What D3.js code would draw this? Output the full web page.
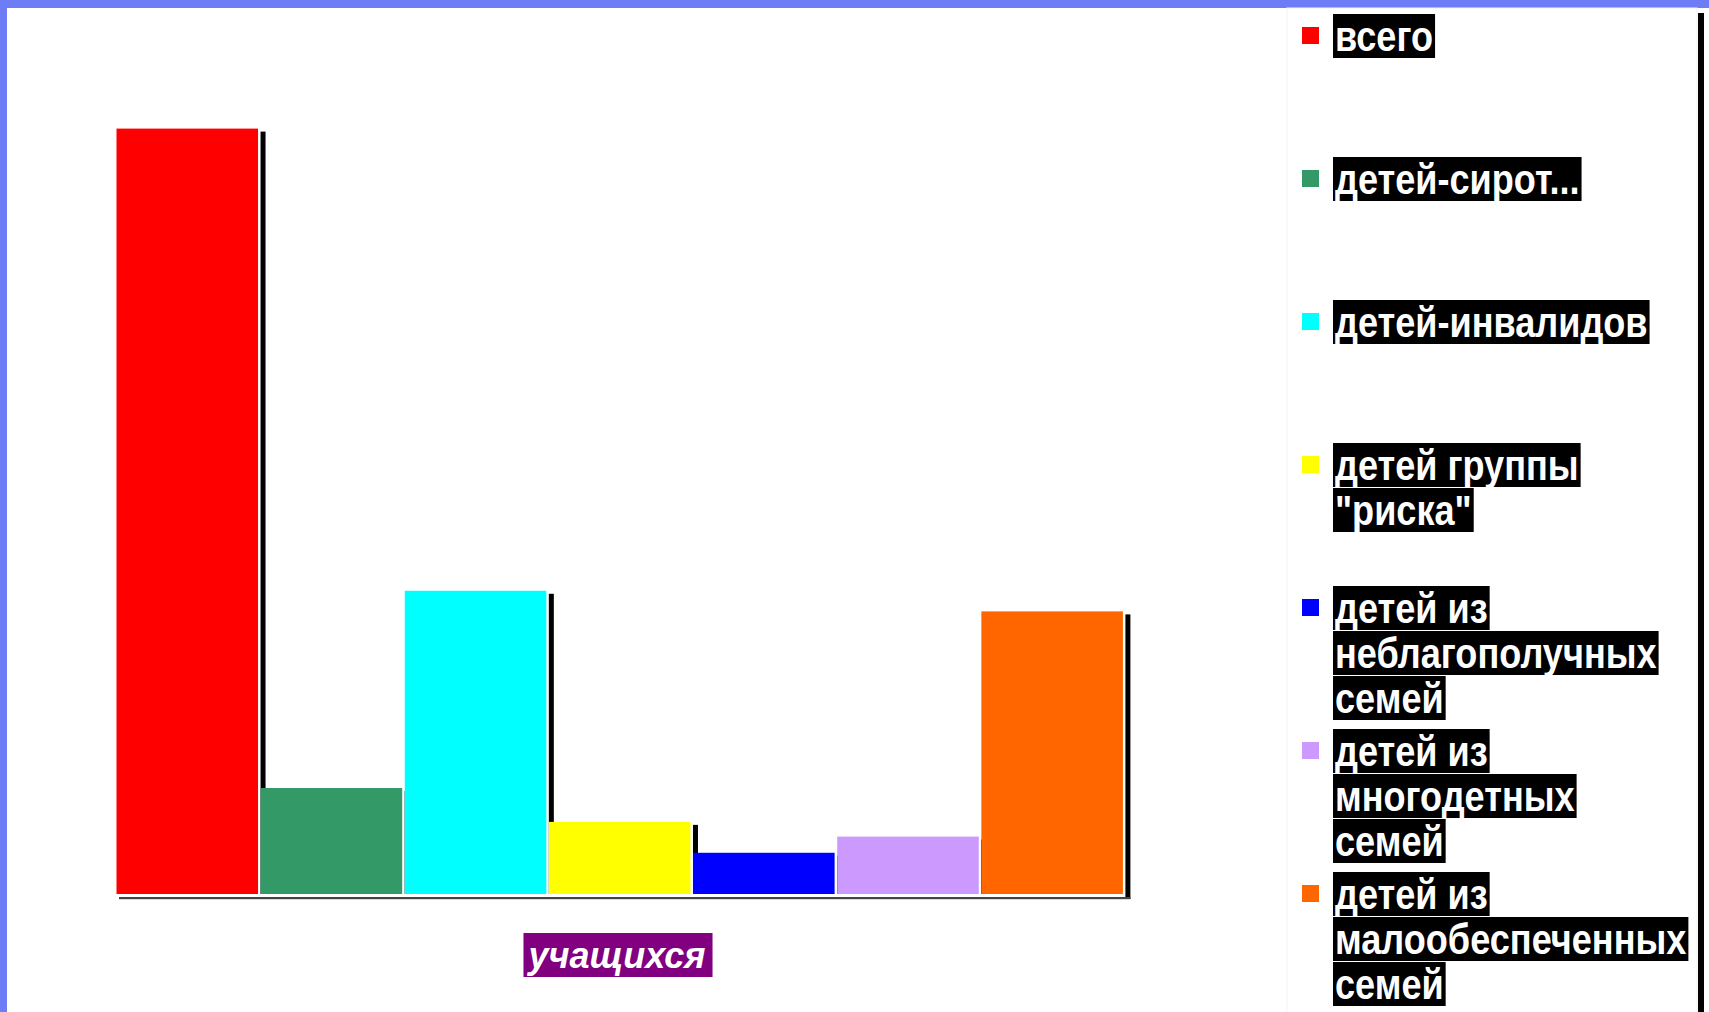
<!DOCTYPE html>
<html>
<head>
<meta charset="utf-8">
<script src="https://cdn.jsdelivr.net/npm/d3@7"></script>
<style>
  html, body { margin: 0; padding: 0; background: #ffffff; }
  svg { display: block; }
</style>
</head>
<body>
<svg id="chart" width="1709" height="1012"></svg>
<script>
// ---- data ----
const categoryLabel = "учащихся";
const seriesNames = ["всего", "детей-сирот...", "детей-инвалидов", "детей группы \"риска\"",
  "детей из неблагополучных семей", "детей из многодетных семей", "детей из малообеспеченных семей"];
const legendLines = [
  ["всего"],
  ["детей-сирот..."],
  ["детей-инвалидов"],
  ["детей группы", "\"риска\""],
  ["детей из", "неблагополучных", "семей"],
  ["детей из", "многодетных", "семей"],
  ["детей из", "малообеспеченных", "семей"]
];
const values = [260, 36, 103, 24.5, 14, 19.5, 96];
const colors = ["#ff0000", "#339966", "#00ffff", "#ffff00", "#0000ff", "#cc99ff", "#ff6600"];

// ---- drawing ----
const W = 1709, H = 1012;
const svg = d3.select("#chart");

// frame
svg.append("rect").attr("x", 0).attr("y", 0).attr("width", W).attr("height", H).attr("fill", "#ffffff");
svg.append("rect").attr("x", 0).attr("y", 0).attr("width", W).attr("height", 8).attr("fill", "#6e7cf6");
svg.append("rect").attr("x", 0).attr("y", 0).attr("width", 7).attr("height", H).attr("fill", "#6e7cf6");

const x = d3.scaleBand().domain(seriesNames).range([116.5, 1125.5]).paddingInner(0).paddingOuter(0);
const y = d3.scaleLinear().domain([0, 260]).range([894, 128.6]);
const gap = 2.6;
const bw = x.bandwidth() - gap;
const last = seriesNames.length - 1;

const data = seriesNames.map((s, i) => ({ name: s, value: values[i], color: colors[i], i }));

// shadows (right side) drawn first, then bars over them
svg.append("g").selectAll("rect").data(data).join("rect")
  .attr("x", d => x(d.name) + bw + 2.5)
  .attr("y", d => y(d.value) + 3)
  .attr("width", 5)
  .attr("height", d => y(0) - y(d.value) - 3 + (d.i === last ? 5 : 0))
  .attr("fill", "#000");

// baseline shadow
svg.append("rect")
  .attr("x", x(seriesNames[0]) + 2.5)
  .attr("y", y(0) + 3)
  .attr("width", x(seriesNames[last]) + bw + 7.5 - x(seriesNames[0]) - 2.5)
  .attr("height", 2.2)
  .attr("fill", "#444");

svg.append("g").selectAll("rect").data(data).join("rect")
  .attr("x", d => x(d.name))
  .attr("y", d => y(d.value))
  .attr("width", bw)
  .attr("height", d => y(0) - y(d.value))
  .attr("fill", d => d.color);

// category label with purple background
const catG = svg.append("g");
const catText = catG.append("text")
  .attr("x", (x.range()[0] + x.range()[1]) / 2 - 4)
  .attr("y", 968)
  .attr("text-anchor", "middle")
  .attr("font-family", "'Liberation Sans', Arial, sans-serif")
  .attr("font-weight", "bold")
  .attr("font-style", "italic")
  .attr("font-size", 36)
  .attr("fill", "#ffffff")
  .text(categoryLabel);
const cb = catText.node().getBBox();
catG.insert("rect", "text")
  .attr("x", cb.x - 3).attr("y", 933)
  .attr("width", cb.width + 10).attr("height", 44)
  .attr("fill", "#800080");

// legend box
svg.append("rect").attr("x", 1287).attr("y", 8).attr("width", 410).attr("height", H)
  .attr("fill", "#ffffff").attr("stroke", "#f3f3f3").attr("stroke-width", 1);
svg.append("rect").attr("x", 1698).attr("y", 13).attr("width", 6).attr("height", H)
  .attr("fill", "#000");

const legendTop = 14, legendStep = 143, lineH = 45;
const narrow = 0.84;
const lg = svg.append("g");
legendLines.forEach((lines, i) => {
  const top = legendTop + legendStep * i;
  lg.append("rect")
    .attr("x", 1302).attr("y", top + 13).attr("width", 17).attr("height", 17)
    .attr("fill", colors[i]);
  lines.forEach((ln, j) => {
    const g = lg.append("g");
    const t = g.append("text")
      .attr("transform", `translate(1335,${top + lineH * j + 37}) scale(${narrow},1)`)
      .attr("font-family", "'Liberation Sans', Arial, sans-serif")
      .attr("font-weight", "bold")
      .attr("font-size", 43)
      .attr("fill", "#ffffff")
      .text(ln);
    const len = t.node().getComputedTextLength() * narrow;
    g.insert("rect", "text")
      .attr("x", 1333).attr("y", top + lineH * j)
      .attr("width", len + 4).attr("height", 44)
      .attr("fill", "#000");
  });
});
</script>
</body>
</html>
